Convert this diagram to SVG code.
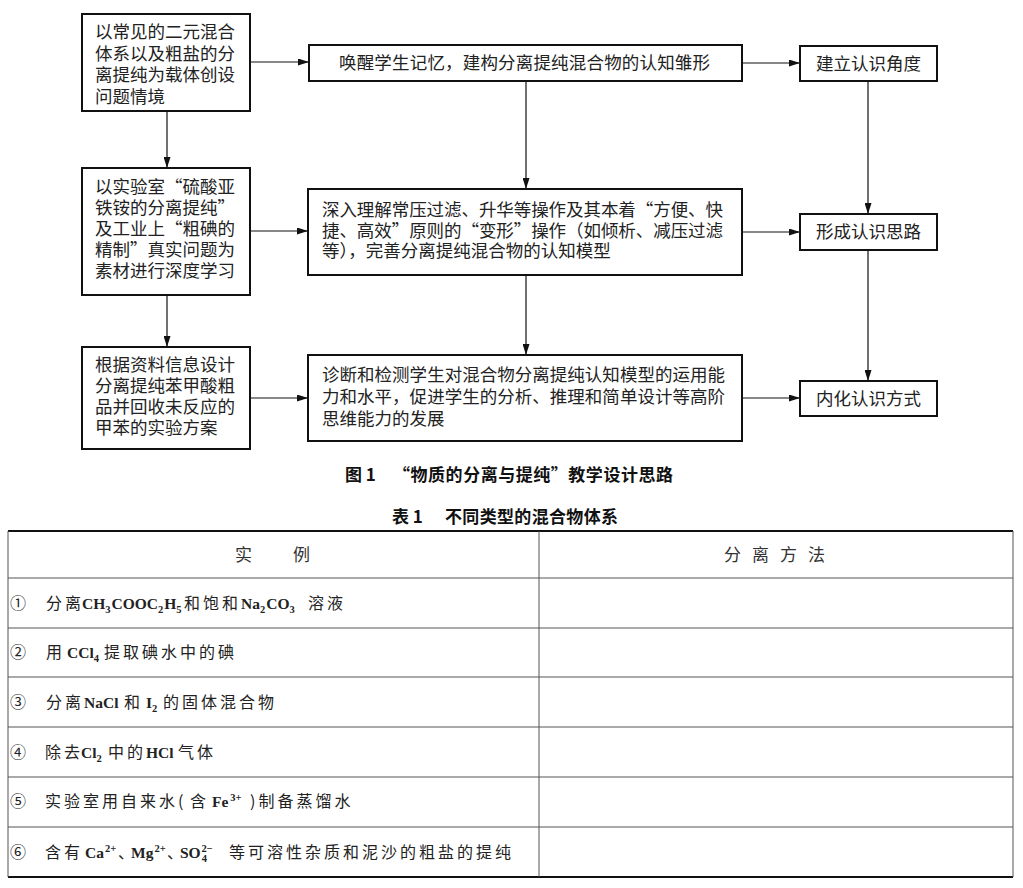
<svg xmlns="http://www.w3.org/2000/svg" width="1023" height="888" viewBox="0 0 1023 888">
<style>
.bx{fill:#fff;stroke:#111;stroke-width:2}
.t{font-family:"Noto Sans CJK SC","Liberation Sans",sans-serif;font-size:17.5px;fill:#222}
.m{text-anchor:middle}
.c{stroke:#111;stroke-width:1.2;fill:none;marker-end:url(#ah)}
.cap{font-family:"Noto Sans CJK SC","Liberation Sans",sans-serif;font-size:17px;font-weight:bold;fill:#111}
.td{font-family:"Noto Sans CJK SC","Liberation Sans",sans-serif;font-size:16px;letter-spacing:3px;fill:#222}
.th{font-family:"Noto Sans CJK SC","Liberation Sans",sans-serif;font-size:17px;fill:#333}
.f{font-family:"Liberation Serif",serif;font-weight:bold;font-size:15.5px;letter-spacing:0}
.s{font-family:"Liberation Serif",serif;font-weight:bold;font-size:10.5px;letter-spacing:0}
.dn{letter-spacing:-6px}
.tl{stroke:#555;stroke-width:1}
.tb{stroke:#111;stroke-width:2}
</style>
<defs>
<marker id="ah" markerUnits="userSpaceOnUse" markerWidth="11" markerHeight="7" refX="11" refY="3.5" orient="auto">
<path d="M0,0 L11,3.5 L0,7 z" fill="#111"/>
</marker>
</defs>

<g id="connectors">
<line class="c" x1="250" y1="62" x2="309" y2="62"/>
<line class="c" x1="742" y1="63" x2="800" y2="63"/>
<line class="c" x1="167" y1="111" x2="167" y2="168"/>
<line class="c" x1="250" y1="231" x2="308" y2="231"/>
<line class="c" x1="742" y1="232" x2="800" y2="232"/>
<line class="c" x1="167" y1="295" x2="167" y2="347"/>
<line class="c" x1="250" y1="398" x2="308" y2="398"/>
<line class="c" x1="742" y1="398" x2="800" y2="398"/>
<line class="c" x1="526" y1="81" x2="526" y2="189"/>
<line class="c" x1="526" y1="275" x2="526" y2="355"/>
<line class="c" x1="868" y1="81" x2="868" y2="214"/>
<line class="c" x1="868" y1="250" x2="868" y2="381"/>
</g>

<g id="n1">
<rect class="bx" x="82" y="14" width="168" height="97"/>
<text class="t"><tspan x="95" y="38" textLength="140" lengthAdjust="spacing">以常见的二元混合</tspan><tspan x="95" y="59.5" textLength="140" lengthAdjust="spacing">体系以及粗盐的分</tspan><tspan x="95" y="81" textLength="140" lengthAdjust="spacing">离提纯为载体创设</tspan><tspan x="95" y="102.5">问题情境</tspan></text>
</g>

<g id="n2">
<rect class="bx" x="82" y="168" width="168" height="127"/>
<text class="t"><tspan x="95" y="193" textLength="140" lengthAdjust="spacing">以实验室“硫酸亚</tspan><tspan x="95" y="214" textLength="140" lengthAdjust="spacing">铁铵的分离提纯”</tspan><tspan x="95" y="235" textLength="140" lengthAdjust="spacing">及工业上“粗碘的</tspan><tspan x="95" y="256" textLength="140" lengthAdjust="spacing">精制”真实问题为</tspan><tspan x="95" y="277" textLength="140" lengthAdjust="spacing">素材进行深度学习</tspan></text>
</g>

<g id="n3">
<rect class="bx" x="82" y="347" width="168" height="102"/>
<text class="t"><tspan x="95" y="371" textLength="140" lengthAdjust="spacing">根据资料信息设计</tspan><tspan x="95" y="392" textLength="140" lengthAdjust="spacing">分离提纯苯甲酸粗</tspan><tspan x="95" y="413" textLength="140" lengthAdjust="spacing">品并回收未反应的</tspan><tspan x="95" y="434">甲苯的实验方案</tspan></text>
</g>

<g id="m1">
<rect class="bx" x="309" y="45" width="433" height="36"/>
<text class="t" x="339" y="69" textLength="371" lengthAdjust="spacing">唤醒学生记忆，建构分离提纯混合物的认知雏形</text>
</g>

<g id="m2">
<rect class="bx" x="308" y="189" width="434" height="86"/>
<text class="t"><tspan x="322" y="216" textLength="401" lengthAdjust="spacing">深入理解常压过滤、升华等操作及其本着“方便、快</tspan><tspan x="322" y="237" textLength="401" lengthAdjust="spacing">捷、高效”原则的“变形”操作（如倾析、减压过滤</tspan><tspan x="322" y="257">等），完善分离提纯混合物的认知模型</tspan></text>
</g>

<g id="m3">
<rect class="bx" x="308" y="355" width="434" height="86"/>
<text class="t"><tspan x="322" y="381" textLength="403" lengthAdjust="spacing">诊断和检测学生对混合物分离提纯认知模型的运用能</tspan><tspan x="322" y="403" textLength="403" lengthAdjust="spacing">力和水平，促进学生的分析、推理和简单设计等高阶</tspan><tspan x="322" y="425">思维能力的发展</tspan></text>
</g>

<g id="r1">
<rect class="bx" x="800" y="46" width="137" height="35"/>
<text class="t m" x="868.5" y="69.5">建立认识角度</text>
</g>
<g id="r2">
<rect class="bx" x="800" y="214" width="137" height="36"/>
<text class="t m" x="868.5" y="238">形成认识思路</text>
</g>
<g id="r3">
<rect class="bx" x="800" y="381" width="137" height="35"/>
<text class="t m" x="868.5" y="404.5">内化认识方式</text>
</g>

<g id="caption">
<text class="cap"><tspan x="345" y="481">图 1</tspan><tspan x="393" y="481" textLength="280" lengthAdjust="spacing">“物质的分离与提纯”教学设计思路</tspan></text>
</g>

<g id="table">
<text class="cap"><tspan x="392" y="523">表 1</tspan><tspan x="445" y="523" textLength="173" lengthAdjust="spacing">不同类型的混合物体系</tspan></text>
<line class="tb" x1="8" y1="531" x2="1013" y2="531"/>
<line class="tb" x1="8" y1="877" x2="1013" y2="877"/>
<line class="tl" x1="8" y1="531" x2="8" y2="877"/>
<line class="tl" x1="1013" y1="531" x2="1013" y2="877"/>
<line class="tl" x1="539" y1="531" x2="539" y2="877"/>
<line class="tl" x1="8" y1="578" x2="1013" y2="578"/>
<line class="tl" x1="8" y1="628" x2="1013" y2="628"/>
<line class="tl" x1="8" y1="677" x2="1013" y2="677"/>
<line class="tl" x1="8" y1="727" x2="1013" y2="727"/>
<line class="tl" x1="8" y1="777" x2="1013" y2="777"/>
<line class="tl" x1="8" y1="827" x2="1013" y2="827"/>
<text class="th" y="561"><tspan x="235">实</tspan><tspan x="293">例</tspan></text>
<text class="th" y="561"><tspan x="724">分</tspan><tspan x="752">离</tspan><tspan x="780">方</tspan><tspan x="808">法</tspan></text>

<text class="td" y="609"><tspan x="10">①</tspan><tspan x="46">分离</tspan><tspan x="82" class="f">CH</tspan><tspan class="s" dy="4">3</tspan><tspan class="f" dx="1" dy="-4">COOC</tspan><tspan class="s" dy="4">2</tspan><tspan class="f" dx="1" dy="-4">H</tspan><tspan class="s" dy="4">5</tspan><tspan x="184" dy="-4">和饱和</tspan><tspan x="241" class="f">Na</tspan><tspan class="s" dy="4">2</tspan><tspan class="f" dx="1" dy="-4">CO</tspan><tspan class="s" dy="4">3</tspan><tspan x="308" dy="-4">溶液</tspan></text>

<text class="td" y="658"><tspan x="10">②</tspan><tspan x="46">用</tspan><tspan x="67" class="f">CCl</tspan><tspan class="s" dy="4">4</tspan><tspan x="104" dy="-4">提取碘水中的碘</tspan></text>

<text class="td" y="708"><tspan x="10">③</tspan><tspan x="46">分离</tspan><tspan x="84" class="f">NaCl</tspan><tspan x="124">和</tspan><tspan x="146" class="f">I</tspan><tspan class="s" dy="4">2</tspan><tspan x="163" dy="-4">的固体混合物</tspan></text>

<text class="td" y="758"><tspan x="10">④</tspan><tspan x="45">除去</tspan><tspan x="81" class="f">Cl</tspan><tspan class="s" dy="4">2</tspan><tspan x="108" dy="-4">中的</tspan><tspan x="146" class="f">HCl</tspan><tspan x="178">气体</tspan></text>

<text class="td" y="807"><tspan x="10">⑤</tspan><tspan x="45">实验室用自来水(</tspan><tspan x="190">含</tspan><tspan x="212" class="f">Fe</tspan><tspan class="s" dx="2" dy="-6">3+</tspan><tspan x="250" dy="6">)制备蒸馏水</tspan></text>

<text class="td" y="858"><tspan x="10">⑥</tspan><tspan x="45">含有</tspan><tspan x="85" class="f">Ca</tspan><tspan class="s" dx="1" dy="-6">2+</tspan><tspan class="dn" x="118" dy="6">、</tspan><tspan x="131" class="f">Mg</tspan><tspan class="s" dx="1" dy="-6">2+</tspan><tspan class="dn" x="167" dy="6">、</tspan><tspan x="180" class="f">SO</tspan><tspan class="s" dx="1" dy="4">4</tspan><tspan class="s" dx="-5.5" dy="-10">2−</tspan><tspan x="229" dy="6">等可溶性杂质和泥沙的粗盐的提纯</tspan></text>
</g>
</svg>
